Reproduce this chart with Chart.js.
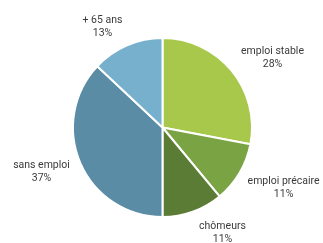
<!DOCTYPE html>
<html>
<head>
<meta charset="utf-8">
<script src="https://cdn.jsdelivr.net/npm/chart.js@4"></script>
<style>
  html, body { margin: 0; padding: 0; background: #fff; }
  #wrap { width: 323px; height: 243px; }
</style>
</head>
<body>
<div id="wrap"><canvas id="myChart" width="323" height="243"></canvas></div>
<script>
"use strict";

// donnees
const categories = ["emploi stable", "emploi précaire", "chômeurs", "sans emploi", "+ 65 ans"];
const values = [28, 11, 11, 37, 13];
const colors = ["#a8c84b", "#7aa444", "#5b7c35", "#5a8ca6", "#77b0cd"];

// petits decalages des etiquettes (comme dans l'original)
const nudges = [[6, 5], [1, 1], [17, -4], [0, -2], [-11, 6]];

const outsideLabels = {
    id: "outsideLabels",
    afterDatasetsDraw(chart) {
        const ctx = chart.ctx;
        const meta = chart.getDatasetMeta(0);
        ctx.save();
        ctx.font = "10.5px Roboto";
        ctx.fillStyle = "#3a3a3a";
        ctx.textAlign = "center";
        ctx.textBaseline = "middle";
        meta.data.forEach((arc, i) => {
            const mid = (arc.startAngle + arc.endAngle) / 2;
            const cos = Math.cos(mid);
            const sin = Math.sin(mid);
            const r = arc.outerRadius + 14;
            const lines = [categories[i], values[i] + "%"];
            const w = Math.max(...lines.map(l => ctx.measureText(l).width));
            const h = 26;
            const cx = arc.x + cos * r + cos * w / 2 + nudges[i][0];
            const cy = arc.y + sin * r + sin * h / 2 + nudges[i][1];
            ctx.fillText(lines[0], cx, cy - 6.5);
            ctx.fillText(lines[1], cx, cy + 6.5);
        });
        ctx.restore();
    }
};

const ctx = document.getElementById("myChart").getContext("2d");
const chart = new Chart(ctx, {
    type: "pie",
    data: {
        labels: categories,
        datasets: [{
            data: values,
            backgroundColor: colors,
            borderColor: "#ffffff",
            borderWidth: 2
        }]
    },
    options: {
        responsive: false,
        animation: false,
        layout: {
            padding: { left: 72, right: 70, top: 37, bottom: 25 }
        },
        plugins: {
            legend: { display: false },
            tooltip: { enabled: false }
        }
    },
    plugins: [outsideLabels]
});
</script>
</body>
</html>
